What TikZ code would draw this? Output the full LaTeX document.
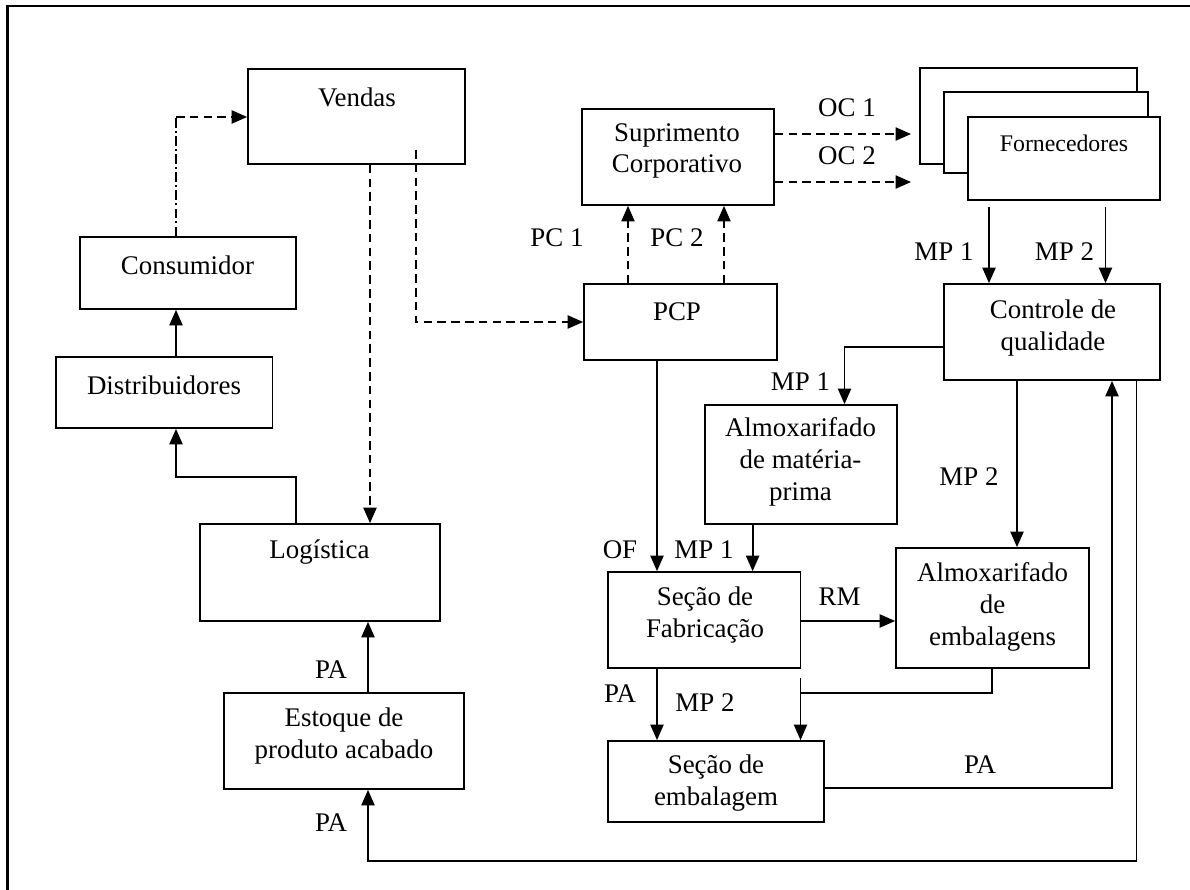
\documentclass[tikz,border=0pt]{standalone}
\usepackage{fontspec}
\setmainfont{Liberation Serif}
\usetikzlibrary{arrows.meta}
\begin{document}
\begin{tikzpicture}[x=0.42pt,y=-0.42pt,
  box/.style={draw, line width=0.7pt, inner sep=0pt, fill=white},
  bx/.style 2 args={box, minimum width={#1*0.42pt}, minimum height={#2*0.42pt}},
  txt/.style={inner sep=0pt, align=center, font=\fontsize{11.3}{13.3}\selectfont},
  lbl/.style={inner sep=0pt, font=\fontsize{11.3}{13.3}\selectfont},
  line/.style={line width=0.75pt},
  conn/.style={line, -{Triangle[length=6.5pt,width=5.5pt]}},
  dconn/.style={conn, dash pattern=on 3.6pt off 2.2pt},
  ddot/.style={line, dash pattern=on 4pt off 1.4pt on 0.8pt off 1.4pt}]
\useasboundingbox (0,0) rectangle (1190,890);
\draw[line width=1pt] (1190,6) -- (7.5,6) -- (7.5,890);

% boxes
\node[bx={217}{95}] (vendas) at (356.5,116.5) {};
\node[bx={216}{72}] (cons) at (188,273) {};
\node[bx={216.5}{71}] (dist) at (164.25,392.5) {};
\node[bx={240}{97}] (logi) at (320,572.5) {};
\node[bx={240}{96}] (estq) at (344,741) {};
\node[bx={192}{96}] (sup) at (678,157) {};
\node[bx={217}{96}] (forn3) at (1028.5,116) {};
\node[bx={204}{81}] (forn2) at (1046,132.5) {};
\node[bx={192}{83}] (forn) at (1064,158.5) {};
\node[bx={193}{76}] (pcp) at (680.5,322) {};
\node[bx={216}{96}] (cq) at (1052,332) {};
\node[bx={192}{119}] (amp) at (801,464.5) {};
\node[bx={192.5}{96}] (fab) at (704.25,620) {};
\node[bx={192.7}{120}] (aemb) at (992.35,608) {};
\node[bx={216}{81}] (emb) at (716,781.5) {};

% box texts
\node[txt] (vendasT) at (357,97) {Vendas};
\node[txt] (consT) at (187.5,265) {Consumidor};
\node[txt] (distT) at (164,385) {Distribuidores};
\node[txt] (supT) at (677,151) {Suprimento\\Corporativo};
\node[txt, font=\fontsize{10}{12}\selectfont] (fornT) at (1064,143) {Fornecedores};
\node[txt] (pcpT) at (677,312) {PCP};
\node[txt] (cqT) at (1053,328) {Controle de\\qualidade};
\node[txt] (ampT) at (800.5,462) {Almoxarifado\\de matéria-\\prima};
\node[txt] (logiT) at (319.5,552) {Logística};
\node[txt] (fabT) at (705,615) {Seção de\\Fabricação};
\node[txt] (aembT) at (992.6,607) {Almoxarifado\\de\\embalagens};
\node[txt] (estqT) at (344,736) {Estoque de\\produto acabado};
\node[txt] (embT) at (716,783) {Seção de\\embalagem};

% helper coordinates
\coordinate (xa) at (176,0);
\coordinate (yv) at (0,117);
\coordinate (xvl) at (370,0);
\coordinate (vp) at (416,150);
\coordinate (xpc1) at (628,0);
\coordinate (xpc2) at (724,0);
\coordinate (yoc1) at (0,134);
\coordinate (yoc2) at (0,182);
\coordinate (xmp1) at (989,0);
\coordinate (xmp2) at (1105.5,0);
\coordinate (ycq) at (0,347);
\coordinate (xamp) at (844.5,0);
\coordinate (xcqe) at (1017,0);
\coordinate (xpa) at (1112,0);
\coordinate (yemb) at (0,788);
\coordinate (xfb) at (1136.5,0);
\coordinate (yfb) at (0,861);
\coordinate (xest) at (368,0);
\coordinate (xld) at (296,0);
\coordinate (yld) at (0,477);
\coordinate (xof) at (657,0);
\coordinate (xm1) at (752.6,0);
\coordinate (yrm) at (0,621);
\coordinate (yj) at (0,693);
\coordinate (xj) at (800.5,0);
\coordinate (stub) at (800.5,678);

% connectors
\draw[conn] (dist.north -| xa) -- (cons.south -| xa);
\draw[ddot] (cons.north -| xa) -- (yv -| xa);
\draw[dconn] (yv -| xa) -- (vendas.west |- yv);
\draw[dconn] (vendas.south -| xvl) -- (logi.north -| xvl);
\draw[dconn] (vp) |- (pcp.west);
\draw[dconn] (pcp.north -| xpc1) -- (sup.south -| xpc1);
\draw[dconn] (pcp.north -| xpc2) -- (sup.south -| xpc2);
\draw[dconn, shorten >=3.4pt] (sup.east |- yoc1) -- (forn3.west |- yoc1);
\draw[dconn, shorten >=3.4pt] (sup.east |- yoc2) -- (forn3.west |- yoc2);
\draw[conn, shorten <=2.5pt] (forn.south -| xmp1) -- (cq.north -| xmp1);
\draw[conn, shorten <=2.5pt] (forn.south -| xmp2) -- (cq.north -| xmp2);
\draw[conn] (cq.west |- ycq) -| (amp.north -| xamp);
\draw[conn] (cq.south -| xcqe) -- (aemb.north -| xcqe);
\draw[conn] (emb.east |- yemb) -| (cq.south -| xpa);
\draw[conn] (cq.south -| xfb) |- (yfb -| xest) -- (estq.south -| xest);
\draw[conn] (estq.north -| xest) -- (logi.south -| xest);
\draw[conn] (logi.north -| xld) |- (yld -| xa) -- (dist.south -| xa);
\draw[conn] (pcp.south -| xof) -- (fab.north -| xof);
\draw[conn] (amp.south -| xm1) -- (fab.north -| xm1);
\draw[conn] (fab.east |- yrm) -- (aemb.west |- yrm);
\draw[conn] (fab.south -| xof) -- (emb.north -| xof);
\draw[line] (aemb.south) |- (yj -| xj);
\draw[conn] (stub) -- (emb.north -| xj);

% labels
\node[lbl] (lpc1) at (557,238) {PC 1};
\node[lbl] (lpc2) at (677,238) {PC 2};
\node[lbl] (loc1) at (847,108) {OC 1};
\node[lbl] (loc2) at (847,156) {OC 2};
\node[lbl] (lmp1a) at (944,252) {MP 1};
\node[lbl] (lmp2a) at (1064.5,252) {MP 2};
\node[lbl] (lmp1b) at (800.5,382) {MP 1};
\node[lbl] (lmp2b) at (969,477) {MP 2};
\node[lbl] (lof) at (620,550) {OF};
\node[lbl] (lmp1c) at (704,550) {MP 1};
\node[lbl] (lrm) at (839.5,597) {RM};
\node[lbl] (lpa1) at (620,694) {PA};
\node[lbl] (lmp2c) at (705,703) {MP 2};
\node[lbl] (lpa2) at (980,765) {PA};
\node[lbl] (lpa3) at (331,670) {PA};
\node[lbl] (lpa4) at (331,823) {PA};
\end{tikzpicture}
\end{document}
